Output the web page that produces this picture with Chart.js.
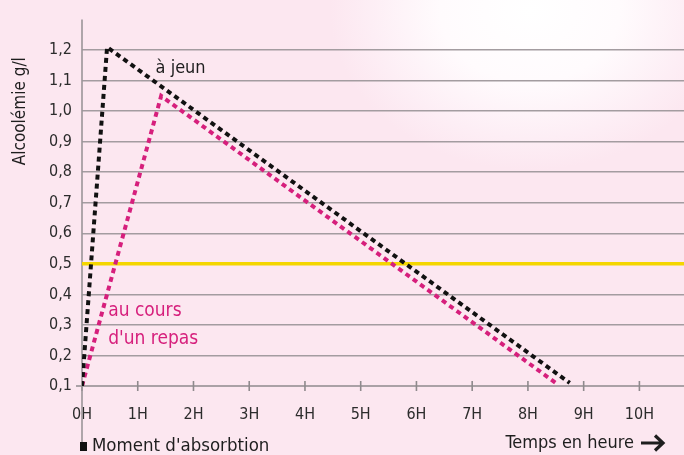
<!DOCTYPE html>
<html lang="fr">
<head>
<meta charset="UTF-8">
<title>Alcoolémie</title>
<script src="https://cdn.jsdelivr.net/npm/chart.js@4"></script>
<style>
  html, body { margin: 0; padding: 0; }
  body {
    width: 684px; height: 455px; overflow: hidden;
    background: radial-gradient(ellipse 200px 160px at 530px 10px, #ffffff 0%, #fffbfd 45%, #fdeef5 80%, #fce7f0 100%);
    background-color: #fce7f0;
  }
  #wrap { position: relative; width: 684px; height: 455px; }
</style>
</head>
<body>
<div id="wrap"><canvas id="graph" width="684" height="455"></canvas></div>
<script>
// données
const heures = [0, 1, 2, 3, 4, 5, 6, 7, 8, 9, 10];
const jeunX = [0, 0.45, 8.75];
const jeunY = [0.1, 1.21, 0.11];
const repasX = [0, 1.42, 8.5];
const repasY = [0.1, 1.05, 0.11];
const niveaux = [0.1, 0.2, 0.3, 0.4, 0.5, 0.6, 0.7, 0.8, 0.9, 1.0, 1.1, 1.2];
const limite = 0.5;
const xMax = 10.8;

const police = "'Liberation Sans Narrow', 'DejaVu Sans Condensed', sans-serif";
const rose = '#d61f7c';

function points(xs, ys) {
  return xs.map((x, i) => ({ x: x, y: ys[i] }));
}

const decor = {
  id: 'decor',
  beforeDatasetsDraw(chart) {
    const ctx = chart.ctx, xs = chart.scales.x, ys = chart.scales.y;
    const y0 = ys.getPixelForValue(0.1);
    ctx.save();
    // axe des x + graduations
    ctx.strokeStyle = '#8f8a8d';
    ctx.lineWidth = 1.6;
    ctx.beginPath();
    ctx.moveTo(xs.left - 6, y0);
    ctx.lineTo(chart.width, y0);
    heures.forEach(h => {
      const px = xs.getPixelForValue(h);
      ctx.moveTo(px, y0 - 5);
      ctx.lineTo(px, y0 + 5);
    });
    ctx.stroke();
    // axe des y
    ctx.strokeStyle = '#9a9598';
    ctx.beginPath();
    ctx.moveTo(xs.left, ys.top);
    ctx.lineTo(xs.left, 443);
    ctx.stroke();
    ctx.restore();
  },
  afterDatasetsDraw(chart) {
    const ctx = chart.ctx, xs = chart.scales.x, ys = chart.scales.y;
    ctx.save();
    ctx.textBaseline = 'middle';
    ctx.font = '18px ' + police;
    ctx.fillStyle = '#1e1e1e';
    ctx.fillText('à jeun', xs.getPixelForValue(1.32), ys.getPixelForValue(1.14));
    ctx.fillStyle = rose;
    ctx.font = '19px ' + police;
    ctx.fillText('au cours', xs.getPixelForValue(0.47), ys.getPixelForValue(0.345));
    ctx.fillText("d'un repas", xs.getPixelForValue(0.47), ys.getPixelForValue(0.255));

    // titre axe y
    ctx.fillStyle = '#1e1e1e';
    ctx.font = '17px ' + police;
    ctx.translate(21, ys.getPixelForValue(1.0));
    ctx.rotate(-Math.PI / 2);
    ctx.textAlign = 'center';
    ctx.fillText('Alcoolémie g/l', 0, 0);
    ctx.restore();

    ctx.save();
    ctx.textBaseline = 'middle';
    ctx.fillStyle = '#111';
    ctx.fillRect(xs.left - 2, 442, 7, 9);
    ctx.font = '18.5px ' + police;
    ctx.fillStyle = '#1e1e1e';
    ctx.fillText("Moment d'absorbtion", xs.left + 10, 446);
    ctx.textAlign = 'right';
    ctx.font = '18px ' + police;
    ctx.fillText('Temps en heure', 634, 443);
    // flèche
    ctx.strokeStyle = '#1e1e1e';
    ctx.lineWidth = 3.2;
    ctx.lineCap = 'butt';
    ctx.lineJoin = 'miter';
    ctx.beginPath();
    ctx.moveTo(641, 443);
    ctx.lineTo(663, 443);
    ctx.moveTo(655, 435.5);
    ctx.lineTo(663, 443);
    ctx.lineTo(655, 450.5);
    ctx.stroke();
    ctx.restore();
  }
};

new Chart(document.getElementById('graph'), {
  type: 'scatter',
  data: {
    datasets: [
      {
        label: 'à jeun',
        data: points(jeunX, jeunY),
        showLine: true,
        borderColor: '#111',
        borderWidth: 4,
        borderDash: [5, 4],
        pointRadius: 0,
        order: 1
      },
      {
        label: 'au cours d\'un repas',
        data: points(repasX, repasY),
        showLine: true,
        borderColor: rose,
        borderWidth: 4,
        borderDash: [5, 4],
        pointRadius: 0,
        order: 2
      },
      {
        label: 'limite',
        data: points([0, xMax], [limite, limite]),
        showLine: true,
        borderColor: '#f4d600',
        borderWidth: 3.5,
        pointRadius: 0,
        order: 3
      }
    ]
  },
  options: {
    responsive: false,
    animation: false,
    layout: { padding: { top: 14, right: 0, left: 0, bottom: 0 } },
    plugins: { legend: { display: false }, tooltip: { enabled: false } },
    scales: {
      x: {
        type: 'linear',
        min: 0,
        max: xMax,
        afterBuildTicks(axis) { axis.ticks = heures.map(v => ({ value: v })); },
        afterFit(axis) { axis.height = 69; },
        grid: { display: false },
        border: { display: false },
        ticks: {
          autoSkip: false,
          maxRotation: 0,
          minRotation: 0,
          padding: 11,
          color: '#2c2c2c',
          font: { family: police, size: 16 },
          callback: v => v + 'H'
        }
      },
      y: {
        min: 0.1,
        max: 1.3,
        afterBuildTicks(axis) { axis.ticks = niveaux.map(v => ({ value: v })); },
        afterFit(axis) { axis.width = 82; },
        border: { display: false },
        grid: {
          drawTicks: false,
          lineWidth: 1.6,
          color: c => (c.tick && c.tick.value > 0.15) ? '#a39ca0' : 'rgba(0,0,0,0)'
        },
        ticks: {
          autoSkip: false,
          padding: 10,
          color: '#2c2c2c',
          font: { family: police, size: 16 },
          callback: v => v.toFixed(1).replace('.', ',')
        }
      }
    }
  },
  plugins: [decor]
});
</script>
</body>
</html>
